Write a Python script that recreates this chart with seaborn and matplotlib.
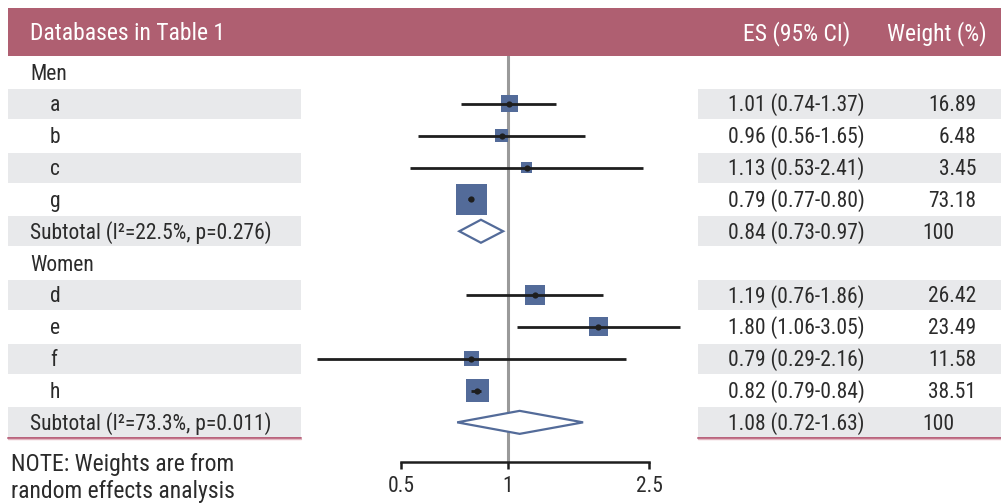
import numpy as np
import pandas as pd
import seaborn as sns
import matplotlib.pyplot as plt
from matplotlib.patches import Rectangle, Polygon

# data
groups = ['Men', 'Women']
studies = [['a', 'b', 'c', 'g'], ['d', 'e', 'f', 'h']]
es = [[1.01, 0.96, 1.13, 0.79], [1.19, 1.80, 0.79, 0.82]]
ci_lo = [[0.74, 0.56, 0.53, 0.77], [0.76, 1.06, 0.29, 0.79]]
ci_hi = [[1.37, 1.65, 2.41, 0.80], [1.86, 3.05, 2.16, 0.84]]
weights = [[16.89, 6.48, 3.45, 73.18], [26.42, 23.49, 11.58, 38.51]]
sub_es = [0.84, 1.08]
sub_lo = [0.73, 0.72]
sub_hi = [0.97, 1.63]
sub_i2 = [22.5, 73.3]
sub_p = [0.276, 0.011]
xticks = [0.5, 1, 2.5]

sns.set_theme(style='white')
plt.rcParams['font.family'] = ['Roboto Condensed', 'Archivo Narrow', 'DejaVu Sans']

TXT = '#2b2b2b'
HEAD = '#AF5F71'
BAND = '#E8E9EB'
BLUE = '#536B99'
FS = 15.5
FS_BIG = 17

# build table rows
rows = []
for g in range(2):
    rows.append(dict(kind='group', label=groups[g]))
    for k in range(4):
        rows.append(dict(kind='study', label=studies[g][k], es=es[g][k],
                         lo=ci_lo[g][k], hi=ci_hi[g][k], w=weights[g][k]))
    rows.append(dict(kind='sub', label=f'Subtotal (I\u00b2={sub_i2[g]}%, p={sub_p[g]:.3f})',
                     es=sub_es[g], lo=sub_lo[g], hi=sub_hi[g], w=100))
df = pd.DataFrame(rows)
df['y'] = 72 + 31.85 * np.arange(len(df))

fig = plt.figure(figsize=(10.01, 5.04), dpi=100)
bg = fig.add_axes([0, 0, 1, 1])
bg.set_xlim(0, 1001)
bg.set_ylim(504, 0)
bg.axis('off')

# header
bg.add_patch(Rectangle((8, 8), 993, 48, color=HEAD, lw=0))
bg.text(30, 40, 'Databases in Table 1', color='white', fontsize=FS_BIG, va='baseline')
bg.text(743, 40, 'ES (95% CI)', color='white', fontsize=FS_BIG, va='baseline')
bg.text(987, 40, 'Weight (%)', color='white', fontsize=FS_BIG, va='baseline', ha='right')

for i, r in df.iterrows():
    y = r['y']
    yb = y + 7.5
    if i % 2 == 1:
        bg.add_patch(Rectangle((8, y - 15), 293, 30, color=BAND, lw=0))
        bg.add_patch(Rectangle((698, y - 15), 303, 30, color=BAND, lw=0))
    if r['kind'] == 'group':
        bg.text(30, yb, r['label'], color=TXT, fontsize=FS, va='baseline')
        continue
    xl = 50 if r['kind'] == 'study' else 30
    bg.text(xl, yb, r['label'], color=TXT, fontsize=FS, va='baseline')
    bg.text(728, yb, f"{r['es']:.2f} ({r['lo']:.2f}-{r['hi']:.2f})", color=TXT,
            fontsize=FS, va='baseline')
    if r['kind'] == 'study':
        bg.text(976, yb, f"{r['w']:.2f}", color=TXT, fontsize=FS, va='baseline', ha='right')
    else:
        bg.text(922, yb, '100', color=TXT, fontsize=FS, va='baseline')

ylast = df['y'].iloc[-1]
for x0, x1 in [(8, 301), (698, 1001)]:
    bg.plot([x0, x1], [ylast + 15.5, ylast + 15.5], color='#B8607A', lw=1.4)
    bg.plot([x0, x1], [ylast + 17, ylast + 17], color='#E3B7C1', lw=1)

bg.text(11, 471, 'NOTE: Weights are from', color=TXT, fontsize=FS_BIG, va='baseline')
bg.text(11, 498, 'random effects analysis', color=TXT, fontsize=FS_BIG, va='baseline')

# forest panel, log x scale
px_per = 154.1
x_one = 507.8
ax = fig.add_axes([300 / 1001, (504 - 462) / 504, 398 / 1001, (462 - 56) / 504])
ax.patch.set_alpha(0)
ax.set_xscale('log')
ax.set_xlim(np.exp((300 - x_one) / px_per), np.exp((698 - x_one) / px_per))
ax.set_ylim(462, 56)

ax.axvline(1, color='#9a9a9a', lw=2.2, zorder=1)

st = df[df['kind'] == 'study']
ax.hlines(st['y'], st['lo'], st['hi'], color='#1e1e1e', lw=2.0, zorder=3)
sns.scatterplot(data=st, x='es', y='y', size='w', sizes=(45, 664), size_norm=(0, 100),
                marker='s', color=BLUE, linewidth=0, legend=False, ax=ax, zorder=2)
sns.scatterplot(data=st, x='es', y='y', s=20, color='#1e1e1e', linewidth=0,
                legend=False, ax=ax, zorder=4)

sb = df[df['kind'] == 'sub']
for _, r in sb.iterrows():
    hh = 11.5
    ax.add_patch(Polygon([(r['lo'], r['y']), (r['es'], r['y'] - hh),
                          (r['hi'], r['y']), (r['es'], r['y'] + hh)],
                         closed=True, facecolor='white', edgecolor=BLUE, lw=1.6, zorder=3))

for s in ['top', 'right', 'left']:
    ax.spines[s].set_visible(False)
ax.spines['bottom'].set_bounds(0.5, 2.5)
ax.spines['bottom'].set_linewidth(1.8)
ax.spines['bottom'].set_color('#1e1e1e')
ax.set_xticks(xticks)
ax.set_xticks([], minor=True)
ax.set_xticklabels(['0.5', '1', '2.5'])
ax.tick_params(axis='x', which='major', direction='out', length=5, width=1.8,
               color='#1e1e1e', labelsize=FS, labelcolor=TXT, pad=5, bottom=True)
ax.set_yticks([])
ax.set_xlabel('')
ax.set_ylabel('')

fig.savefig('out.png', dpi=100)
